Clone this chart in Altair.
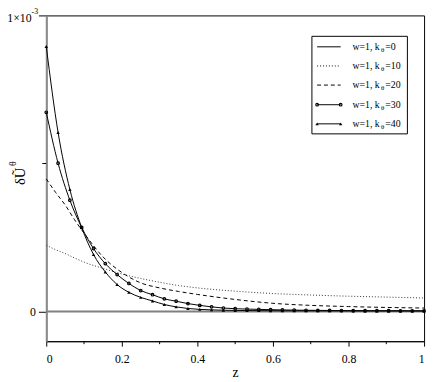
import altair as alt
import pandas as pd

# ---------------- data (values of delta U^theta in units of 1e-3) ----------------
z_marked = [0.0, 0.03125, 0.0625, 0.09375, 0.125, 0.15625, 0.1875, 0.21875, 0.25,
            0.28125, 0.3125, 0.34375, 0.375, 0.40625, 0.4375, 0.46875, 0.5,
            0.53125, 0.5625, 0.59375, 0.625, 0.65625, 0.6875, 0.71875, 0.75,
            0.78125, 0.8125, 0.84375, 0.875, 0.90625, 0.9375, 0.96875, 1.0]
k30 = [0.673, 0.501, 0.376, 0.284, 0.213, 0.162, 0.125, 0.095, 0.071, 0.057, 0.043,
       0.035, 0.027, 0.021, 0.016, 0.012, 0.0098, 0.0085, 0.0075, 0.0065, 0.0057,
       0.005, 0.0045, 0.0041, 0.0038, 0.0035, 0.0033, 0.0031, 0.003, 0.0029, 0.0028,
       0.0027, 0.0026]
k40 = [0.895, 0.605, 0.412, 0.284, 0.193, 0.134, 0.0915, 0.065, 0.048, 0.036, 0.024,
       0.016, 0.0105, 0.0075, 0.0058, 0.0047, 0.004, 0.0035, 0.0032, 0.003, 0.0028,
       0.0027, 0.0026, 0.0025, 0.0024, 0.0024, 0.0023, 0.0023, 0.0022, 0.0022,
       0.0022, 0.0021, 0.0021]
z_smooth = [0.0, 0.025, 0.05, 0.075, 0.1, 0.15, 0.2, 0.25, 0.3, 0.35, 0.4, 0.5, 0.6,
            0.7, 0.8, 0.9, 1.0]
k10 = [0.224, 0.209, 0.196, 0.181, 0.167, 0.146, 0.127, 0.112, 0.099, 0.088, 0.080,
       0.069, 0.061, 0.056, 0.052, 0.049, 0.046]
k20 = [0.448, 0.402, 0.360, 0.310, 0.265, 0.185, 0.132, 0.097, 0.080, 0.068, 0.058,
       0.041, 0.028, 0.021, 0.017, 0.014, 0.012]
z_zero = [0.0, 1.0]
k0 = [0.0, 0.0]

x_major = [0.0, 0.2, 0.4, 0.6, 0.8, 1.0]
x_minor = [0.1, 0.3, 0.5, 0.7, 0.9]
y_major = [0.0, 1.0]
y_minor = [0.5]

legend_labels = ["=0", "=10", "=20", "=30", "=40"]

FONT = "Liberation Serif, Times New Roman, serif"

# ---------------- scales / encodings ----------------
xs = alt.Scale(domain=[0, 1], nice=False, zero=False)
ys = alt.Scale(domain=[-0.1, 1.0], nice=False, zero=False)

x_axis = alt.Axis(values=x_major, tickSize=5, labelPadding=8, labelFontSize=12,
                  labelFont=FONT, labelColor="black", domainColor="black",
                  tickColor="black", grid=False, title=None,
                  labelExpr="datum.value == 0 ? '0' : datum.value == 1 ? '1' : format(datum.value, '.1f')")
y_axis = alt.Axis(values=y_major, tickSize=8, labelPadding=3, labelFontSize=12,
                  labelFont=FONT, labelColor="black", domainColor="#8a8a8a",
                  domainWidth=2, tickColor="black", grid=False, title=None,
                  labelExpr="datum.value == 0 ? '0' : ''")

X = alt.X("z:Q", scale=xs, axis=x_axis)
Y = alt.Y("v:Q", scale=ys, axis=y_axis)

df30 = pd.DataFrame({"z": z_marked, "v": k30})
df40 = pd.DataFrame({"z": z_marked, "v": k40})
df10 = pd.DataFrame({"z": z_smooth, "v": k10})
df20 = pd.DataFrame({"z": z_smooth, "v": k20})
df0 = pd.DataFrame({"z": z_zero, "v": k0})

layers = []
layers.append(alt.Chart(df0).mark_line(color="#808080", strokeWidth=2).encode(x=X, y=Y))
layers.append(alt.Chart(df10).mark_line(color="#333333", strokeWidth=1, strokeDash=[1, 2],
                                        interpolate="monotone").encode(x=X, y=Y))
layers.append(alt.Chart(df20).mark_line(color="black", strokeWidth=1, strokeDash=[4, 3],
                                        interpolate="monotone").encode(x=X, y=Y))
layers.append(alt.Chart(df30).mark_line(color="black", strokeWidth=1,
                                        interpolate="monotone").encode(x=X, y=Y))
layers.append(alt.Chart(df30).mark_point(shape="circle", filled=False, color="black",
                                         size=7, strokeWidth=1.2, opacity=1).encode(x=X, y=Y))
layers.append(alt.Chart(df40).mark_line(color="black", strokeWidth=1,
                                        interpolate="monotone").encode(x=X, y=Y))
layers.append(alt.Chart(df40).mark_point(shape="triangle-up", filled=True, color="black",
                                         size=12, opacity=1).encode(x=X, y=Y))

# minor ticks
layers.append(alt.Chart(pd.DataFrame({"z": x_minor})).mark_rule(color="black").encode(
    x=X, y=alt.value(332), y2=alt.value(335)))
layers.append(alt.Chart(pd.DataFrame({"v": y_minor})).mark_rule(color="black").encode(
    y=Y, x=alt.value(-4), x2=alt.value(0)))

one = pd.DataFrame({"a": [0]})

def txt(s, x, y, size, angle=0, align="center", baseline="middle"):
    kw = dict(text=s, font=FONT, fontSize=size, color="black", align=align, baseline=baseline)
    if angle:
        kw["angle"] = angle
    return alt.Chart(one).mark_text(**kw).encode(x=alt.value(x), y=alt.value(y))

# top y label 1x10^-3
layers.append(txt("1×10", -15, 3, 12, align="right"))
layers.append(txt("-3", -15, -3, 8, align="left"))
# axis titles
layers.append(txt("z", 193, 364, 14))
layers.append(txt("δŨ", -27, 164, 15, angle=270))
layers.append(txt("θ", -34, 151, 10, angle=270))

# legend box
layers.append(alt.Chart(one).mark_rect(fill="white", stroke="black", strokeWidth=1).encode(
    x=alt.value(270.7), x2=alt.value(368), y=alt.value(21.3), y2=alt.value(120.7)))

rows_y = [32, 51.5, 71, 91, 110.5]
dashes = [None, [1, 2], [4, 3], None, None]
markers = [None, None, None, "circle", "triangle-up"]
for i, ry in enumerate(rows_y):
    rk = dict(color="black", strokeWidth=1)
    if dashes[i]:
        rk["strokeDash"] = dashes[i]
    layers.append(alt.Chart(one).mark_rule(**rk).encode(
        x=alt.value(276), x2=alt.value(300), y=alt.value(ry)))
    if markers[i]:
        for mx in (276, 300):
            layers.append(alt.Chart(one).mark_point(
                shape=markers[i], filled=(markers[i] != "circle"), color="black",
                size=7 if markers[i] == "circle" else 12, strokeWidth=1.2,
                opacity=1).encode(x=alt.value(mx), y=alt.value(ry)))
    layers.append(txt("w=1, k", 312, ry, 10, align="left"))
    layers.append(txt("θ", 341, ry + 3, 7, align="left"))
    layers.append(txt(legend_labels[i], 345.5, ry, 10, align="left"))

chart = alt.layer(*layers).properties(
    width=385, height=332,
    padding={"left": 39, "top": 4, "right": 4, "bottom": 38},
    autosize=alt.AutoSizeParams(type="none"),
    background="white",
).configure_view(stroke="black", strokeWidth=1)

chart.save("out.html", embed_options={"renderer": "svg", "actions": False})
